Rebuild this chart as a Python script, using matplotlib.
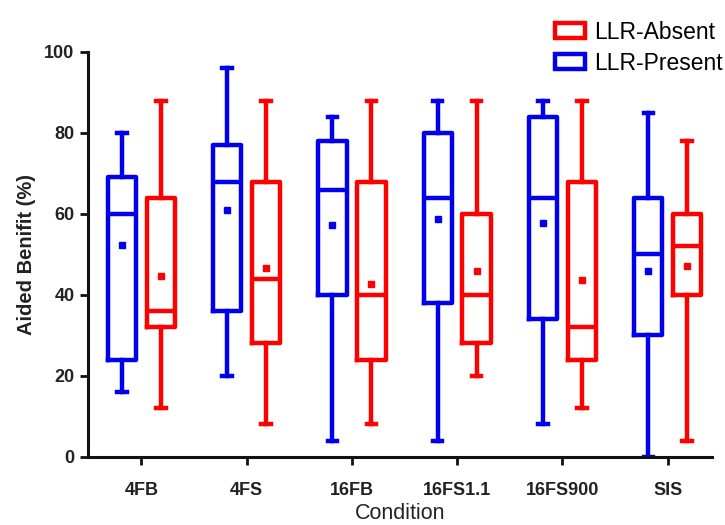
import matplotlib
matplotlib.use("Agg")
import matplotlib.pyplot as plt
from matplotlib.patches import Patch
import numpy as np

plt.rcParams["font.family"] = ["Liberation Sans", "DejaVu Sans"]

conditions = ["4FB", "4FS", "16FB", "16FS1.1", "16FS900", "SIS"]

# LLR-Present (blue): whisker low, Q1, median, Q3, whisker high, mean
present_low = [16, 20, 4, 4, 8, 0]
present_q1 = [24, 36, 40, 38, 34, 30]
present_med = [60, 68, 66, 64, 64, 50]
present_q3 = [69, 77, 78, 80, 84, 64]
present_high = [80, 96, 84, 88, 88, 85]
present_mean = [52.3, 61.0, 57.2, 58.8, 57.8, 46.0]

# LLR-Absent (red)
absent_low = [12, 8, 8, 20, 12, 4]
absent_q1 = [32, 28, 24, 28, 24, 40]
absent_med = [36, 44, 40, 40, 32, 52]
absent_q3 = [64, 68, 68, 60, 68, 60]
absent_high = [88, 88, 88, 88, 88, 78]
absent_mean = [44.6, 46.7, 42.8, 45.8, 43.6, 47.2]

BLUE = "#0000ee"
RED = "#ff0000"


def make_stats(low, q1, med, q3, high, mean):
    return [
        {"whislo": a, "q1": b, "med": c, "q3": d, "whishi": e, "mean": m, "fliers": []}
        for a, b, c, d, e, m in zip(low, q1, med, q3, high, mean)
    ]


def draw(ax, stats, positions, color):
    ax.bxp(
        stats,
        positions=positions,
        widths=0.27,
        showmeans=True,
        showfliers=False,
        boxprops={"color": color, "linewidth": 3.2},
        medianprops={"color": color, "linewidth": 3.2},
        whiskerprops={"color": color, "linewidth": 3.2},
        capprops={"color": color, "linewidth": 3.2},
        capwidths=0.09,
        meanprops={"marker": "s", "markerfacecolor": color, "markeredgecolor": color,
                   "markersize": 4},
    )


fig = plt.figure(figsize=(7.25, 5.25), dpi=100)
ax = fig.add_axes([0.121, 0.13, 0.861, 0.771])

x = np.arange(len(conditions))
draw(ax, make_stats(present_low, present_q1, present_med, present_q3, present_high, present_mean),
     x - 0.185, BLUE)
draw(ax, make_stats(absent_low, absent_q1, absent_med, absent_q3, absent_high, absent_mean),
     x + 0.185, RED)

ax.set_xlim(-0.51, 5.42)
ax.set_ylim(0, 100)
ax.set_xticks(x)
ax.set_xticklabels(conditions, fontsize=13, fontweight="bold", color="#222222")
ax.set_yticks(np.arange(0, 101, 20))
ax.set_yticklabels([str(v) for v in range(0, 101, 20)], fontsize=13, fontweight="bold",
                   color="#222222")
ax.tick_params(axis="both", direction="out", width=2, length=6, color="#111111")
ax.tick_params(axis="x", pad=12)
ax.spines["top"].set_visible(False)
ax.spines["right"].set_visible(False)
for s in ("left", "bottom"):
    ax.spines[s].set_linewidth(2.2)
    ax.spines[s].set_color("#111111")

ax.set_ylabel("Aided Benifit (%)", fontsize=14.5, fontweight="bold", color="#222222", labelpad=6)
fig.text(0.552, 0.022, "Condition", fontsize=15.5, color="#222222", ha="center", va="center")

handles = [
    Patch(facecolor="white", edgecolor=RED, linewidth=3.2, label="LLR-Absent"),
    Patch(facecolor="white", edgecolor=BLUE, linewidth=3.2, label="LLR-Present"),
]
fig.legend(handles=handles, loc="upper right", bbox_to_anchor=(1.025, 1.0), frameon=False,
           fontsize=16.5, handlelength=1.3, handleheight=0.6, handletextpad=0.4,
           labelspacing=0.35)

fig.savefig("out.png", dpi=100)
